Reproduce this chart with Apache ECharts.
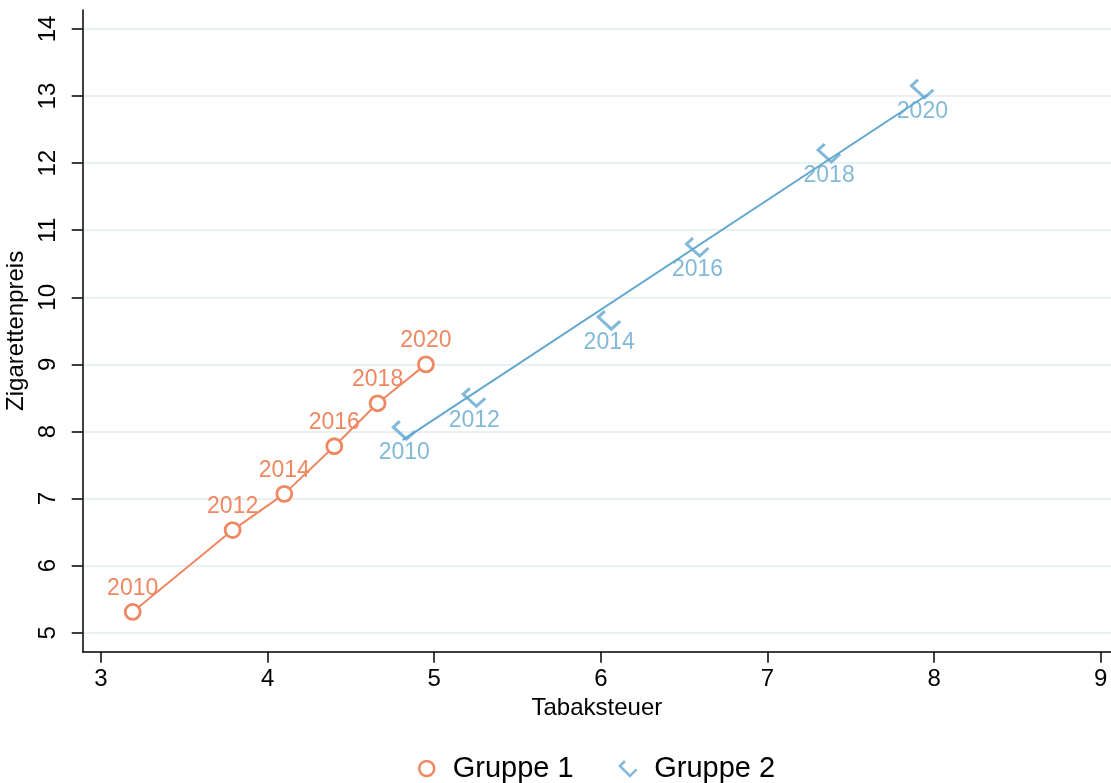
<!DOCTYPE html>
<html>
<head>
<meta charset="utf-8">
<script src="https://cdn.jsdelivr.net/npm/echarts@6/dist/echarts.min.js"></script>
<style>
html,body{margin:0;padding:0;background:#fff;}
#chart{width:1111px;height:783px;}
</style>
</head>
<body>
<div id="chart"></div>
<script>
// ---- data ----
const years = ['2010','2012','2014','2016','2018','2020'];
const g1Tax = [3.19, 3.79, 4.10, 4.40, 4.66, 4.95];
const g1Price = [5.31, 6.53, 7.07, 7.78, 8.42, 9.00];
const g2Tax = [4.82, 5.24, 6.05, 6.58, 7.37, 7.93];
const g2Price = [8.02, 8.51, 9.66, 10.75, 12.15, 13.11];
const g2FitTax = [4.81, 7.96];
const g2FitPrice = [7.87, 13.02];
const xTicks = [3, 4, 5, 6, 7, 8, 9];
const yTicks = [5, 6, 7, 8, 9, 10, 11, 12, 13, 14];
const seriesNames = ['Gruppe 1', 'Gruppe 2'];
const xTitle = 'Tabaksteuer';
const yTitle = 'Zigarettenpreis';

const ORANGE = '#EF8760';
const BLUE = '#63A7CF';
const HOOK = 'path://M3,0 L0,3 L6,9 L10,5';
const FONT = 'Liberation Sans, Arial, sans-serif';

function pts(xs, ys, labels) {
  return xs.map((x, i) => labels ? { value: [x, ys[i]], name: labels[i] } : [x, ys[i]]);
}

const chart = echarts.init(document.getElementById('chart'));
chart.setOption({
  animation: false,
  backgroundColor: '#ffffff',
  textStyle: { fontFamily: FONT },
  grid: { left: 82.7, right: 0, top: 10, bottom: 131.3, containLabel: false, outerBoundsMode: 'none' },
  xAxis: {
    type: 'value', min: 2.89, max: 9.062,
    name: xTitle, nameLocation: 'middle', nameGap: 12,
    nameTextStyle: { color: '#000', fontSize: 24, fontFamily: FONT },
    axisLine: { show: true, onZero: false, lineStyle: { color: '#000', width: 1.5 } },
    axisTick: { show: true, length: 11, lineStyle: { color: '#000', width: 1.5 }, customValues: xTicks },
    axisLabel: { color: '#000', fontSize: 24, margin: 16, customValues: xTicks, fontFamily: FONT },
    splitLine: { show: false }
  },
  yAxis: {
    type: 'value', min: 4.717, max: 14.283,
    name: yTitle, nameLocation: 'middle', nameGap: 27, nameRotate: 90,
    nameTextStyle: { color: '#000', fontSize: 24, fontFamily: FONT },
    axisLine: { show: true, onZero: false, lineStyle: { color: '#000', width: 1.5 } },
    axisTick: { show: true, length: 11, lineStyle: { color: '#000', width: 1.5 }, customValues: yTicks },
    axisLabel: { color: '#000', fontSize: 24, margin: 22, rotate: 90, customValues: yTicks, fontFamily: FONT },
    splitLine: { show: true, lineStyle: { color: '#E9F0F2', width: 2 } }
  },
  legend: {
    top: 749, left: 413,
    itemWidth: 42, itemHeight: 15, itemGap: 45,
    textStyle: { color: '#000', fontSize: 29, fontFamily: FONT },
    data: [
      { name: seriesNames[0], icon: 'circle', itemStyle: { color: 'rgba(0,0,0,0)', borderColor: ORANGE, borderWidth: 2.5 } },
      { name: seriesNames[1], icon: HOOK, itemStyle: { color: 'rgba(0,0,0,0)', borderColor: BLUE, borderWidth: 2.5 } }
    ]
  },
  series: [
    {
      name: seriesNames[0], type: 'line', data: pts(g1Tax, g1Price, years),
      symbol: 'circle', symbolSize: 15, showAllSymbol: true,
      lineStyle: { color: ORANGE, width: 2 },
      itemStyle: { color: '#fff', borderColor: ORANGE, borderWidth: 2.8 },
      label: { show: true, position: 'top', distance: 3, formatter: p => p.name, color: ORANGE, fontSize: 23, fontFamily: FONT },
      z: 3
    },
    {
      name: 'fit2', type: 'line', data: pts(g2FitTax, g2FitPrice),
      symbol: 'none', lineStyle: { color: BLUE, width: 2 }, z: 2, silent: true
    },
    {
      name: seriesNames[1], type: 'scatter', data: pts(g2Tax, g2Price, years),
      symbol: HOOK, symbolSize: [22, 20], symbolKeepAspect: true,
      itemStyle: { color: 'rgba(0,0,0,0)', borderColor: BLUE, borderWidth: 3 },
      label: { show: true, position: 'bottom', distance: 1, formatter: p => p.name, color: BLUE, fontSize: 23, fontFamily: FONT },
      z: 4
    }
  ]
});
</script>
</body>
</html>
